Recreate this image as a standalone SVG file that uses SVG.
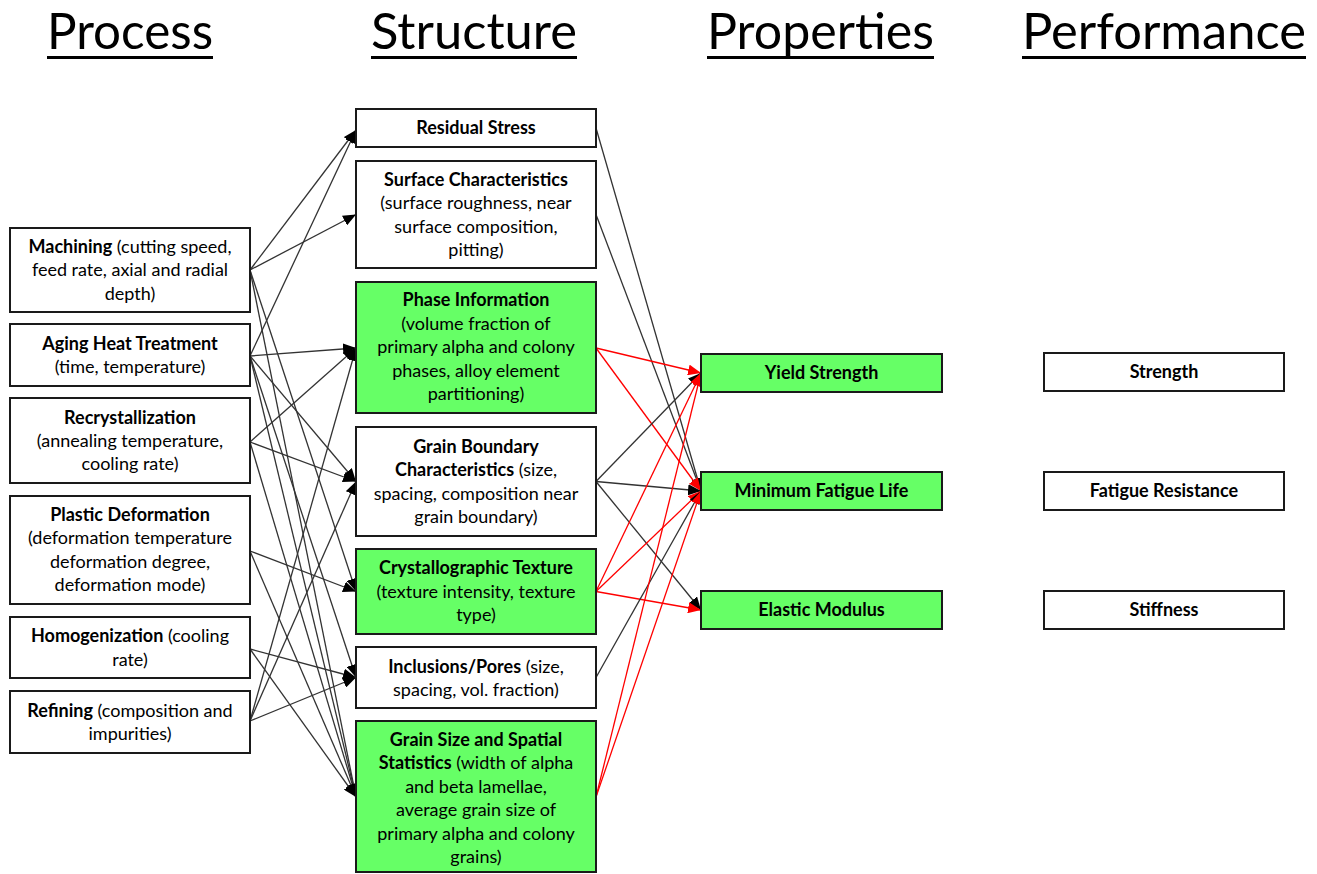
<svg xmlns="http://www.w3.org/2000/svg" width="1317" height="874" viewBox="0 0 1317 874">
<style>
.box{fill:#ffffff;stroke:#1a1a1a;stroke-width:2}
.g{fill:#66ff66}
.t{font-family:Lato,"Liberation Sans",sans-serif;font-size:18px;fill:#000;text-anchor:middle}
.b{font-weight:bold}
.title{font-family:Lato,"Liberation Sans",sans-serif;font-size:50px;fill:#000;text-anchor:middle}
.ul{stroke:#000;stroke-width:3}
.k{stroke:#333;stroke-width:1.3;fill:none;marker-end:url(#ak)}
.r{stroke:#ff0000;stroke-width:1.3;fill:none;marker-end:url(#ar)}
</style>
<defs>
<marker id="ak" markerUnits="userSpaceOnUse" markerWidth="13" markerHeight="11" refX="13" refY="5.5" orient="auto"><path d="M0,0 L13,5.5 L0,11 z" fill="#000"/></marker>
<marker id="ar" markerUnits="userSpaceOnUse" markerWidth="13" markerHeight="11" refX="13" refY="5.5" orient="auto"><path d="M0,0 L13,5.5 L0,11 z" fill="#ff0000"/></marker>
</defs>
<rect width="1317" height="874" fill="#ffffff"/>
<g id="titles">
<text class="title" x="130" y="49" textLength="166" lengthAdjust="spacingAndGlyphs">Process</text>
<line class="ul" x1="47" y1="57.5" x2="213" y2="57.5"/>
<text class="title" x="474" y="49" textLength="206" lengthAdjust="spacingAndGlyphs">Structure</text>
<line class="ul" x1="371" y1="57.5" x2="577" y2="57.5"/>
<text class="title" x="820.5" y="49" textLength="227" lengthAdjust="spacingAndGlyphs">Properties</text>
<line class="ul" x1="707" y1="57.5" x2="934" y2="57.5"/>
<text class="title" x="1164" y="49" textLength="284" lengthAdjust="spacingAndGlyphs">Performance</text>
<line class="ul" x1="1022" y1="57.5" x2="1306" y2="57.5"/>
</g>
<g id="connectors">
<line class="k" x1="250" y1="270" x2="356" y2="130"/>
<line class="k" x1="250" y1="270" x2="356" y2="214.5"/>
<line class="k" x1="250" y1="270" x2="356" y2="591.5"/>
<line class="k" x1="250" y1="270" x2="356" y2="797"/>
<line class="k" x1="250" y1="356" x2="356" y2="130"/>
<line class="k" x1="250" y1="356" x2="356" y2="348"/>
<line class="k" x1="250" y1="356" x2="356" y2="481.5"/>
<line class="k" x1="250" y1="356" x2="356" y2="677.5"/>
<line class="k" x1="250" y1="356" x2="356" y2="797"/>
<line class="k" x1="250" y1="442" x2="356" y2="348"/>
<line class="k" x1="250" y1="442" x2="356" y2="481.5"/>
<line class="k" x1="250" y1="442" x2="356" y2="797"/>
<line class="k" x1="250" y1="551" x2="356" y2="591.5"/>
<line class="k" x1="250" y1="551" x2="356" y2="797"/>
<line class="k" x1="250" y1="649" x2="356" y2="677.5"/>
<line class="k" x1="250" y1="649" x2="356" y2="797"/>
<line class="k" x1="250" y1="721" x2="356" y2="348"/>
<line class="k" x1="250" y1="721" x2="356" y2="481.5"/>
<line class="k" x1="250" y1="721" x2="356" y2="677.5"/>
<line class="k" x1="596" y1="128" x2="701" y2="491"/>
<line class="k" x1="596" y1="214.5" x2="701" y2="491"/>
<line class="r" x1="596" y1="348" x2="701" y2="373"/>
<line class="r" x1="596" y1="348" x2="701" y2="491"/>
<line class="k" x1="596" y1="481.5" x2="701" y2="373"/>
<line class="k" x1="596" y1="481.5" x2="701" y2="491"/>
<line class="k" x1="596" y1="481.5" x2="701" y2="610"/>
<line class="r" x1="596" y1="591.5" x2="701" y2="373"/>
<line class="r" x1="596" y1="591.5" x2="701" y2="491"/>
<line class="r" x1="596" y1="591.5" x2="701" y2="610"/>
<line class="k" x1="596" y1="677.5" x2="701" y2="491"/>
<line class="r" x1="596" y1="797" x2="701" y2="373"/>
<line class="r" x1="596" y1="797" x2="701" y2="491"/>
</g>
<g id="machining">
<rect class="box" x="10" y="228" width="240" height="84"/>
<text class="t" x="130" y="253"><tspan class="b">Machining</tspan> (cutting speed,</text>
<text class="t" x="130" y="276">feed rate, axial and radial</text>
<text class="t" x="130" y="300">depth)</text>
</g>
<g id="aging">
<rect class="box" x="10" y="324" width="240" height="62"/>
<text class="t b" x="130" y="350">Aging Heat Treatment</text>
<text class="t" x="130" y="373">(time, temperature)</text>
</g>
<g id="recrystallization">
<rect class="box" x="10" y="398" width="240" height="85"/>
<text class="t b" x="130" y="424">Recrystallization</text>
<text class="t" x="130" y="447">(annealing temperature,</text>
<text class="t" x="130" y="470">cooling rate)</text>
</g>
<g id="plastic">
<rect class="box" x="10" y="496" width="240" height="108"/>
<text class="t b" x="130" y="521">Plastic Deformation</text>
<text class="t" x="130" y="544">(deformation temperature</text>
<text class="t" x="130" y="568">deformation degree,</text>
<text class="t" x="130" y="591">deformation mode)</text>
</g>
<g id="homogenization">
<rect class="box" x="10" y="617" width="240" height="61"/>
<text class="t" x="130" y="642"><tspan class="b">Homogenization</tspan> (cooling</text>
<text class="t" x="130" y="666">rate)</text>
</g>
<g id="refining">
<rect class="box" x="10" y="691" width="240" height="62"/>
<text class="t" x="130" y="717"><tspan class="b">Refining</tspan> (composition and</text>
<text class="t" x="130" y="740">impurities)</text>
</g>
<g id="residual">
<rect class="box" x="356" y="109" width="240" height="38"/>
<text class="t b" x="476" y="134">Residual Stress</text>
</g>
<g id="surface">
<rect class="box" x="356" y="161" width="240" height="107"/>
<text class="t b" x="476" y="186">Surface Characteristics</text>
<text class="t" x="476" y="209">(surface roughness, near</text>
<text class="t" x="476" y="233">surface composition,</text>
<text class="t" x="476" y="256">pitting)</text>
</g>
<g id="phase">
<rect class="box g" x="356" y="282" width="240" height="131"/>
<text class="t b" x="476" y="306">Phase Information</text>
<text class="t" x="476" y="330">(volume fraction of</text>
<text class="t" x="476" y="353">primary alpha and colony</text>
<text class="t" x="476" y="377">phases, alloy element</text>
<text class="t" x="476" y="400">partitioning)</text>
</g>
<g id="grainboundary">
<rect class="box" x="356" y="427" width="240" height="109"/>
<text class="t b" x="476" y="453">Grain Boundary</text>
<text class="t" x="476" y="476"><tspan class="b">Characteristics</tspan> (size,</text>
<text class="t" x="476" y="500">spacing, composition near</text>
<text class="t" x="476" y="523">grain boundary)</text>
</g>
<g id="texture">
<rect class="box g" x="356" y="549" width="240" height="85"/>
<text class="t b" x="476" y="574">Crystallographic Texture</text>
<text class="t" x="476" y="598">(texture intensity, texture</text>
<text class="t" x="476" y="621">type)</text>
</g>
<g id="inclusions">
<rect class="box" x="356" y="647" width="240" height="61"/>
<text class="t" x="476" y="673"><tspan class="b">Inclusions/Pores</tspan> (size,</text>
<text class="t" x="476" y="696">spacing, vol. fraction)</text>
</g>
<g id="grainsize">
<rect class="box g" x="356" y="721" width="240" height="151"/>
<text class="t b" x="476" y="746">Grain Size and Spatial</text>
<text class="t" x="476" y="769"><tspan class="b">Statistics</tspan> (width of alpha</text>
<text class="t" x="476" y="793">and beta lamellae,</text>
<text class="t" x="476" y="816">average grain size of</text>
<text class="t" x="476" y="840">primary alpha and colony</text>
<text class="t" x="476" y="863">grains)</text>
</g>
<g id="yield">
<rect class="box g" x="701" y="354" width="241" height="38"/>
<text class="t b" x="821.5" y="379">Yield Strength</text>
</g>
<g id="fatigue">
<rect class="box g" x="701" y="472" width="241" height="38"/>
<text class="t b" x="821.5" y="497">Minimum Fatigue Life</text>
</g>
<g id="elastic">
<rect class="box g" x="701" y="591" width="241" height="38"/>
<text class="t b" x="821.5" y="616">Elastic Modulus</text>
</g>
<g id="strength">
<rect class="box" x="1044" y="353" width="240" height="38"/>
<text class="t b" x="1164" y="378">Strength</text>
</g>
<g id="fatigueres">
<rect class="box" x="1044" y="472" width="240" height="38"/>
<text class="t b" x="1164" y="497">Fatigue Resistance</text>
</g>
<g id="stiffness">
<rect class="box" x="1044" y="591" width="240" height="38"/>
<text class="t b" x="1164" y="616">Stiffness</text>
</g>
</svg>
